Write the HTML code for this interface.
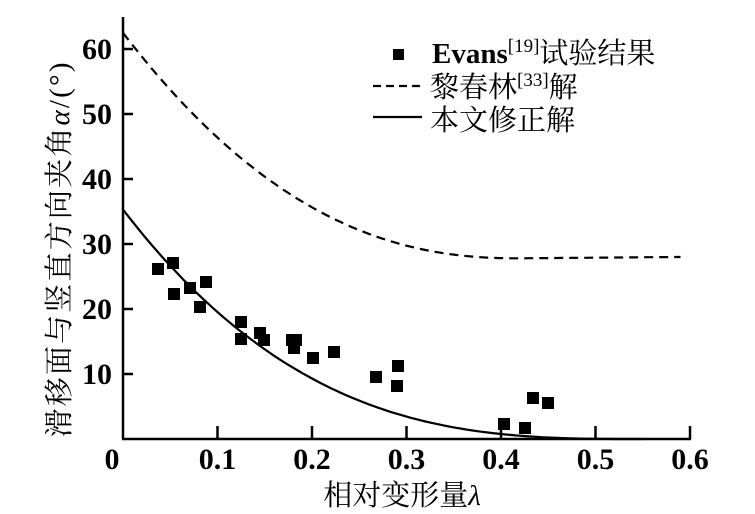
<!DOCTYPE html>
<html><head><meta charset="utf-8"><style>
html,body{margin:0;padding:0;background:#fff;}
svg{display:block;}
text{font-family:"Liberation Serif","Noto Serif CJK SC","Noto Sans CJK SC",serif;fill:#000;}
.t{font-size:30px;font-weight:bold;}
.c{font-size:29px;}
</style></head><body>
<svg width="755" height="514" viewBox="0 0 755 514" xmlns="http://www.w3.org/2000/svg">
<g stroke="#000" stroke-width="2.5" fill="none">
<line x1="123" y1="17" x2="123" y2="439"/>
<line x1="122" y1="439" x2="691" y2="439"/>
<line x1="217.5" y1="439" x2="217.5" y2="426"/>
<line x1="312" y1="439" x2="312" y2="426"/>
<line x1="406.5" y1="439" x2="406.5" y2="426"/>
<line x1="501" y1="439" x2="501" y2="426"/>
<line x1="595.5" y1="439" x2="595.5" y2="426"/>
<line x1="690" y1="439" x2="690" y2="426"/>
<line x1="123" y1="49" x2="133" y2="49"/>
<line x1="123" y1="114" x2="133" y2="114"/>
<line x1="123" y1="179" x2="133" y2="179"/>
<line x1="123" y1="244" x2="133" y2="244"/>
<line x1="123" y1="309" x2="133" y2="309"/>
<line x1="123" y1="374" x2="133" y2="374"/>
</g>
<g class="t" text-anchor="end">
<text x="112" y="59">60</text><text x="112" y="124">50</text><text x="112" y="189">40</text>
<text x="112" y="254">30</text><text x="112" y="319">20</text><text x="112" y="384">10</text>
</g>
<g class="t" text-anchor="middle">
<text x="112" y="469">0</text><text x="217.5" y="469">0.1</text><text x="312" y="469">0.2</text>
<text x="406.5" y="469">0.3</text><text x="501" y="469">0.4</text><text x="595.5" y="469">0.5</text>
<text x="690" y="469">0.6</text>
</g>
<text class="c" x="402" y="505" text-anchor="middle">相对变形量<tspan font-style="italic">λ</tspan></text>
<text class="c" transform="translate(69,250) rotate(-90)" text-anchor="middle" textLength="375" lengthAdjust="spacing">滑移面与竖直方向夹角<tspan font-style="italic">α</tspan>/(°)</text>
<path id="sol" fill="none" stroke="#000" stroke-width="2.2"/>
<path id="dsh" fill="none" stroke="#000" stroke-width="2.2" stroke-dasharray="9,6"/>
<g fill="#000">
<rect x="152" y="263" width="12" height="12"/><rect x="167" y="257" width="12" height="12"/>
<rect x="168" y="288" width="12" height="12"/><rect x="184" y="282" width="12" height="12"/>
<rect x="194" y="301" width="12" height="12"/><rect x="200" y="276" width="12" height="12"/>
<rect x="235" y="316" width="12" height="12"/><rect x="235" y="333" width="12" height="12"/>
<rect x="254" y="327" width="12" height="12"/><rect x="258" y="334" width="12" height="12"/>
<rect x="286" y="334" width="12" height="12"/><rect x="288" y="342" width="12" height="12"/>
<rect x="290" y="334" width="12" height="12"/>
<rect x="307" y="352" width="12" height="12"/><rect x="328" y="346" width="12" height="12"/>
<rect x="370" y="371" width="12" height="12"/><rect x="392" y="360" width="12" height="12"/>
<rect x="391" y="380" width="12" height="12"/>
<rect x="498" y="418" width="12" height="12"/><rect x="519" y="422" width="12" height="12"/>
<rect x="527" y="392" width="12" height="12"/><rect x="542" y="397" width="12" height="12"/>
<rect x="393" y="49" width="11" height="11"/>
</g>
<line x1="373" y1="86" x2="422" y2="86" stroke="#000" stroke-width="2.2" stroke-dasharray="8,5"/>
<line x1="373" y1="117" x2="422" y2="117" stroke="#000" stroke-width="2.2"/>
<text class="c" x="432" y="63"><tspan font-weight="bold">Evans</tspan><tspan font-size="19" dy="-11">[19]</tspan><tspan dy="11">试验结果</tspan></text>
<text class="c" x="430" y="97">黎春林<tspan font-size="19" dy="-11">[33]</tspan><tspan dy="11">解</tspan></text>
<text class="c" x="430" y="130">本文修正解</text>
<script>
function X(l){return 123+945*l;}function Y(a){return 439-6.5*a;}
var s="",d="";
for(var i=0;i<=110;i++){var l=i*0.005;var a=35.3*Math.pow(Math.max(0,1-l/0.55),2.95);s+=(i?"L":"M")+X(l).toFixed(1)+","+Y(a).toFixed(1);}
for(var i=0;i<=118;i++){var l=i*0.005;var a=l<0.42?27.8+34.7*Math.pow(1-l/0.42,2.3):27.8+(l-0.42)*1.2;d+=(i?"L":"M")+X(l).toFixed(1)+","+Y(a).toFixed(1);}
document.getElementById("sol").setAttribute("d",s);
document.getElementById("dsh").setAttribute("d",d);
</script>
</svg>
</body></html>
